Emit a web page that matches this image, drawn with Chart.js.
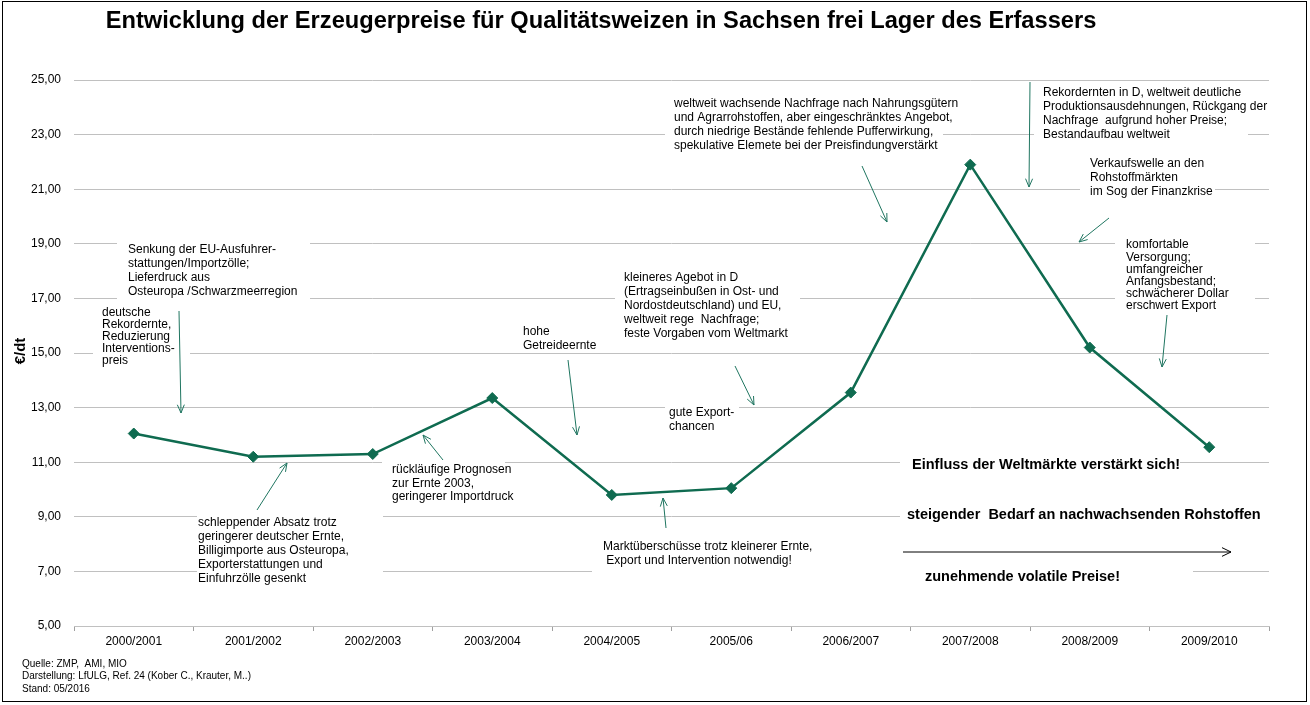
<!DOCTYPE html>
<html>
<head>
<meta charset="utf-8">
<script src="https://cdn.jsdelivr.net/npm/chart.js@4.4.0/dist/chart.umd.min.js"></script>
<style>
  html, body { margin: 0; padding: 0; background: #fff; }
  #wrap { width: 1310px; height: 705px; position: relative; }
</style>
</head>
<body>
<div id="wrap"><canvas id="c" width="1310" height="705"></canvas></div>
<script>
// ---- data ----
const categories = ["2000/2001","2001/2002","2002/2003","2003/2004","2004/2005","2005/06","2006/2007","2007/2008","2008/2009","2009/2010"];
const prices = [12.05, 11.2, 11.3, 13.35, 9.8, 10.05, 13.55, 21.9, 15.2, 11.55];
const yMin = 5, yMax = 25, yStep = 2;
const titleText = "Entwicklung der Erzeugerpreise für Qualitätsweizen in Sachsen frei Lager des Erfassers";
const yTitle = "€/dt";
const footnotes = ["Quelle: ZMP,  AMI, MIO", "Darstellung: LfULG, Ref. 24 (Kober C., Krauter, M..)", "Stand: 05/2016"];

// ---- annotations (layout decorations, canvas px) ----
const notes = [
  {x:128, y:250, lh:14, box:[117,242,193,58], lines:["Senkung der EU-Ausfuhrer-","stattungen/Importzölle;","Lieferdruck aus","Osteuropa /Schwarzmeerregion"]},
  {x:102, y:313, lh:12, box:[93,305,97,63], lines:["deutsche","Rekordernte,","Reduzierung","Interventions-","preis"]},
  {x:198, y:523, lh:13.8, box:[197,515,186,70], lines:["schleppender Absatz trotz","geringerer deutscher Ernte,","Billigimporte aus Osteuropa,","Exporterstattungen und","Einfuhrzölle gesenkt"]},
  {x:392, y:470, lh:13.5, box:[382,460,123,45], lines:["rückläufige Prognosen","zur Ernte 2003,","geringerer Importdruck"]},
  {x:523, y:332, lh:14, box:[515,323,85,29], lines:["hohe","Getreideernte"]},
  {x:624, y:278, lh:13.8, box:[615,270,185,70], lines:["kleineres Agebot in D","(Ertragseinbußen in Ost- und","Nordostdeutschland) und EU,","weltweit rege  Nachfrage;","feste Vorgaben vom Weltmarkt"]},
  {x:669, y:413, lh:13.5, box:[665,405,74,28], lines:["gute Export-","chancen"]},
  {x:603, y:547, lh:14, box:[592,538,308,37], lines:["Marktüberschüsse trotz kleinerer Ernte,"," Export und Intervention notwendig!"]},
  {x:674, y:104, lh:13.8, box:[665,96,278,56], lines:["weltweit wachsende Nachfrage nach Nahrungsgütern","und Agrarrohstoffen, aber eingeschränktes Angebot,","durch niedrige Bestände fehlende Pufferwirkung,","spekulative Elemete bei der Preisfindungverstärkt"]},
  {x:1043, y:93, lh:14, box:[1034,84,214,57], lines:["Rekordernten in D, weltweit deutliche","Produktionsausdehnungen, Rückgang der","Nachfrage  aufgrund hoher Preise;","Bestandaufbau weltweit"]},
  {x:1090, y:164, lh:13.7, box:[1080,156,135,42], lines:["Verkaufswelle an den","Rohstoffmärkten","im Sog der Finanzkrise"]},
  {x:1126, y:245, lh:12.2, box:[1115,238,140,75], lines:["komfortable","Versorgung;","umfangreicher","Anfangsbestand;","schwächerer Dollar","erschwert Export"]},
  {x:912, y:465, lh:14, bold:true, box:[900,455,280,19], lines:["Einfluss der Weltmärkte verstärkt sich!"]},
  {x:907, y:515, lh:14, bold:true, box:[900,506,370,19], lines:["steigender  Bedarf an nachwachsenden Rohstoffen"]},
  {x:925, y:577, lh:14, bold:true, box:[900,567,293,19], lines:["zunehmende volatile Preise!"]}
];
// arrows: [fromX, fromY, toX, toY]
const arrows = [
  [179,311,181,413],
  [257,510,287,463],
  [443,460,423,435],
  [568,360,577,435],
  [735,366,754,405],
  [666,528,663,498],
  [862,166,887,222],
  [1030,82,1029,187],
  [1109,218,1079,242],
  [1167,315,1162,367]
];
const bigArrow = [903,552,1231,552];

const lineColor = "#0f6b50";
const arrowColor = "#1f7560";
const fontFam = "'Liberation Sans', Arial, sans-serif";

function drawArrow(ctx, a, color, head, spread) {
  const [x1,y1,x2,y2] = a;
  ctx.save();
  ctx.strokeStyle = color;
  ctx.lineWidth = 1;
  ctx.beginPath();
  ctx.moveTo(x1,y1); ctx.lineTo(x2,y2);
  const ang = Math.atan2(y2-y1, x2-x1);
  ctx.moveTo(x2 - head*Math.cos(ang - spread), y2 - head*Math.sin(ang - spread));
  ctx.lineTo(x2, y2);
  ctx.lineTo(x2 - head*Math.cos(ang + spread), y2 - head*Math.sin(ang + spread));
  ctx.stroke();
  ctx.restore();
}

const decor = {
  id: 'decor',
  beforeDatasetsDraw(chart) {
    const ctx = chart.ctx;
    ctx.save();
    notes.forEach(n => {
      ctx.fillStyle = '#fff';
      ctx.fillRect(n.box[0], n.box[1], n.box[2], n.box[3]);
    });
    ctx.fillStyle = '#000';
    ctx.textBaseline = 'middle';
    ctx.textAlign = 'left';
    notes.forEach(n => {
      ctx.font = (n.bold ? 'bold 14.5px ' : '12px ') + fontFam;
      n.lines.forEach((t, i) => ctx.fillText(t, n.x, n.y + i*n.lh));
    });
    arrows.forEach(a => drawArrow(ctx, a, arrowColor, 9, 0.4));
    drawArrow(ctx, bigArrow, '#000', 10, 0.45);
    ctx.restore();
  },
  afterDraw(chart) {
    const ctx = chart.ctx;
    ctx.save();
    // title
    ctx.fillStyle = '#000';
    ctx.textBaseline = 'middle';
    ctx.textAlign = 'center';
    ctx.font = 'bold 20px ' + fontFam;
    const w = ctx.measureText(titleText).width;
    const size = 20 * 991 / w;
    ctx.font = 'bold ' + size.toFixed(2) + 'px ' + fontFam;
    ctx.fillText(titleText, 601, 21);
    // y title
    ctx.save();
    ctx.translate(21, 351);
    ctx.rotate(-Math.PI/2);
    ctx.font = 'bold 15px ' + fontFam;
    ctx.fillText(yTitle, 0, 0);
    ctx.restore();
    // footnotes
    ctx.textAlign = 'left';
    ctx.font = '10px ' + fontFam;
    footnotes.forEach((t, i) => ctx.fillText(t, 22, 664 + i*12.5));
    // border
    ctx.strokeStyle = '#000';
    ctx.lineWidth = 1;
    ctx.strokeRect(2.5, 1.5, 1304, 700);
    ctx.restore();
  }
};

new Chart(document.getElementById('c'), {
  type: 'line',
  data: {
    labels: categories,
    datasets: [{
      data: prices,
      borderColor: lineColor,
      backgroundColor: lineColor,
      borderWidth: 2.5,
      pointStyle: 'rectRot',
      pointRadius: 5.5,
      pointBorderWidth: 1,
      pointBorderColor: lineColor,
      pointBackgroundColor: lineColor,
      tension: 0,
      fill: false
    }]
  },
  options: {
    responsive: false,
    devicePixelRatio: 1,
    animation: false,
    layout: { padding: { top: 80, right: 41, bottom: 0, left: 0 } },
    plugins: { legend: { display: false }, tooltip: { enabled: false }, title: { display: false } },
    scales: {
      x: {
        type: 'category',
        offset: true,
        grid: { drawOnChartArea: false, drawTicks: true, tickLength: 5, offset: true, color: '#a0a0a0' },
        border: { display: true, color: '#c0c0c0' },
        ticks: { color: '#000', font: { family: fontFam, size: 12 }, padding: 3, maxRotation: 0, autoSkip: false },
        afterFit(s) { s.height = 79; }
      },
      y: {
        min: yMin, max: yMax,
        ticks: { stepSize: yStep, color: '#000', font: { family: fontFam, size: 12 }, padding: 13,
          callback: v => v.toFixed(2).replace('.', ',') },
        grid: { color: '#c0c0c0', drawTicks: false, lineWidth: 1 },
        border: { display: false },
        afterFit(s) { s.width = 74; }
      }
    }
  },
  plugins: [decor]
});
</script>
</body>
</html>
